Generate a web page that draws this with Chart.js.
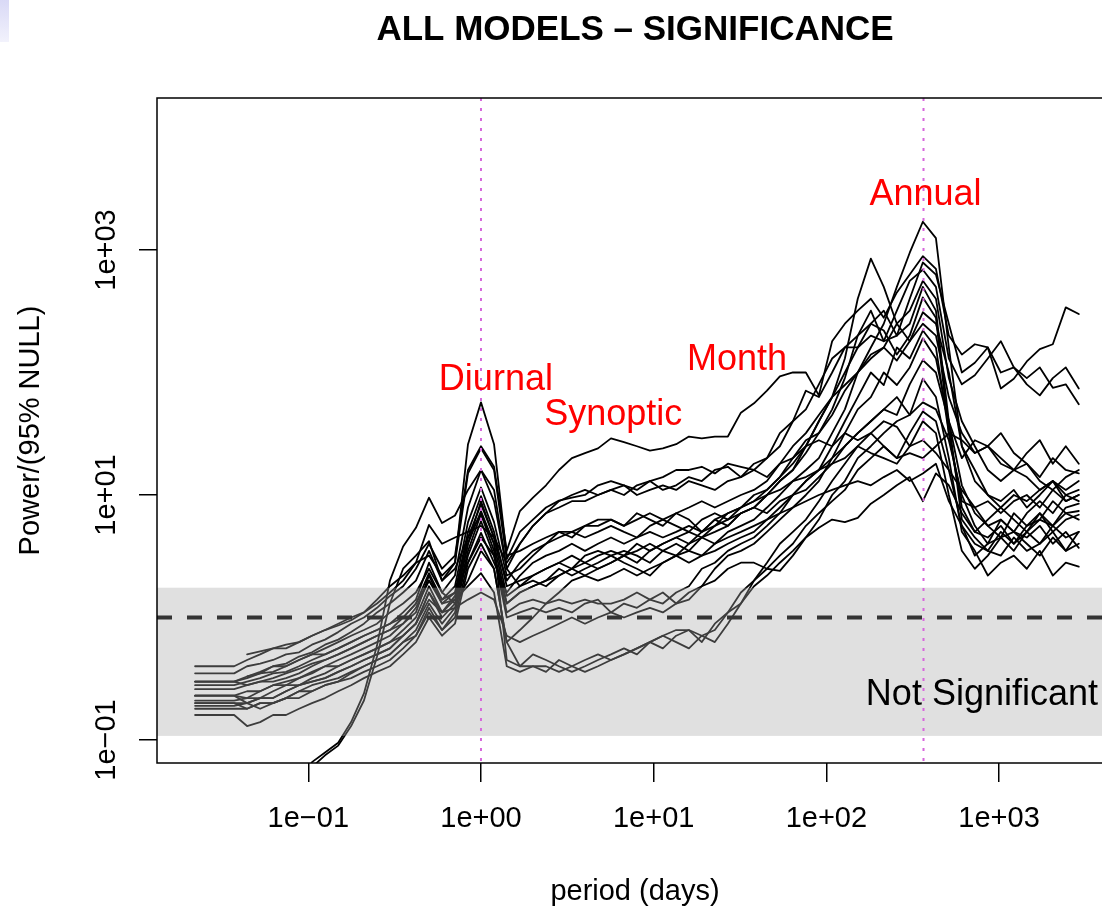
<!DOCTYPE html>
<html>
<head>
<meta charset="utf-8">
<title>ALL MODELS – SIGNIFICANCE</title>
<script src="https://cdn.jsdelivr.net/npm/chart.js@4.4.1/dist/chart.umd.min.js"></script>
<style>
  html, body { margin: 0; padding: 0; background: #fff; overflow: hidden; }
  #wrap { position: relative; width: 1102px; height: 911px; overflow: hidden; }
  #wrap canvas { position: absolute; left: 0; top: 0; }
  #corner { position: absolute; left: 0; top: 0; width: 9px; height: 42px;
            background: linear-gradient(#d9d9f6, #f2f2fc); }
</style>
</head>
<body>
<div id="wrap">
  <canvas id="chart" width="1140" height="911"></canvas>
  <div id="corner"></div>
</div>
<script>
// Period of each spectral bin (days), quarter-octave spacing
const periods = [
  0.0221, 0.0372, 0.0442, 0.0526, 0.0625, 0.0743, 0.0884, 0.105, 0.125, 0.149,
  0.177, 0.210, 0.250, 0.297, 0.354, 0.420, 0.500, 0.595, 0.707, 0.841,
  1.00, 1.19, 1.41, 1.68, 2.00, 2.38, 2.83, 3.36, 4.00, 4.76,
  5.66, 6.73, 8.00, 9.51, 11.3, 13.5, 16.0, 19.0, 22.6, 26.9,
  32.0, 38.1, 45.3, 53.8, 64.0, 76.1, 90.5, 108, 128, 152,
  181, 215, 256, 304, 362, 431, 512, 609, 724, 861,
  1024, 1218, 1448, 1722, 2048, 2435, 2896
];

// Power relative to the 95% null level, one array per model
const model01 = [0.40,0.40,0.45,0.50,0.56,0.56,0.63,0.71,0.79,0.89, 1.0,1.1,1.4,1.8,2.2,2.8,3.2,2.2,2.8,26, 57,26,3.2,3.5,4.0,4.5,5.0,5.0,5.6,5.6, 6.3,5.6,6.3,7.1,6.3,7.1,7.9,8.9,7.9,8.9, 10,11,13,18,25,32,45,63,79,100, 160,250,500,950,1700,1250,160,25,13,10, 8.9,11,7.9,10,13,8.9,10];
const model02 = [0.35,0.35,0.40,0.42,0.45,0.50,0.52,0.60,0.66,0.76, 0.89,1.0,1.2,1.5,1.8,2.5,4.0,2.5,3.2,16, 25,17,3.5,7.4,9.5,12,16,20,22,24, 29,27,25,23,24,26,30,29,30,30, 47,56,71,93,100,100,65,180,250,320, 400,280,450,630,890,700,200,140,170,160, 74,89,123,155,170,340,300];
const model03 = [0.30,0.30,0.33,0.35,0.40,0.42,0.48,0.52,0.60,0.66, 0.76,0.89,1.1,1.3,1.6,2.0,3.5,2.0,2.8,15, 24,16,3.0,5.0,6.3,7.9,9.0,9.5,10,12, 13,12,11,13,14,16,16,17,15,18, 17,16,20,25,40,71,63,100,160,200, 250,320,200,400,790,630,250,100,120,160, 100,110,80,65,90,110,74];
const model04 = [0.30,0.30,0.32,0.35,0.36,0.40,0.45,0.50,0.56,0.63, 0.71,0.79,0.89,1.1,1.3,1.6,2.5,1.6,2.2,7.9, 16,8.9,2.5,4.0,5.6,7.1,7.9,8.9,8.9,10, 11,10,12,13,11,12,14,13,16,17, 14,18,20,32,40,50,80,130,160,160, 200,180,320,560,690,500,130,80,95,130, 180,110,90,110,75,80,55];
const model05 = [0.30,0.30,0.28,0.30,0.32,0.35,0.38,0.42,0.45,0.50, 0.56,0.63,0.71,0.79,1.0,1.3,2.3,1.4,1.8,6.0, 11.5,6.0,2.2,2.5,3.2,4.0,4.5,5.0,4.5,5.0, 5.6,5.0,4.5,5.6,6.3,5.6,5.0,6.3,7.1,6.3, 7.9,8.9,11,14,18,25,40,63,130,400, 850,500,250,320,560,400,90,40,25,16, 13,16,18,13,11,14,16];
const model06 = [0.23,0.23,0.25,0.25,0.28,0.30,0.32,0.36,0.40,0.45, 0.50,0.56,0.63,0.71,0.89,1.2,2.0,1.3,1.6,5.0, 9.8,5.0,1.8,2.0,2.2,2.5,2.8,3.2,2.8,3.2, 3.5,3.2,4.0,3.5,4.0,4.5,4.0,5.0,5.6,7.1, 7.9,10,11,14,20,28,32,50,90,200, 320,180,200,250,500,320,40,12,7.1,5.6, 6.3,5.0,4.5,5.6,4.0,5.0,3.7];
const model07 = [0.23,0.23,0.22,0.25,0.28,0.28,0.32,0.35,0.40,0.40, 0.45,0.50,0.56,0.63,0.79,1.0,1.8,1.1,1.5,4.5, 8.4,4.5,1.5,1.8,2.2,2.5,2.8,2.5,3.2,3.5, 3.2,3.5,3.2,2.8,3.5,4.0,3.5,4.5,5.0,5.6, 7.1,7.9,10,13,16,25,40,63,100,160, 250,220,140,200,410,280,32,8.9,7.9,5.6, 4.5,7.1,5.6,6.3,8.9,7.1,7.4];
const model08 = [0.23,0.23,0.20,0.22,0.22,0.25,0.28,0.30,0.32,0.36, 0.40,0.45,0.50,0.56,0.71,0.89,1.6,1.0,1.3,4.0, 7.4,4.0,1.3,1.6,1.8,2.0,2.2,2.5,2.8,2.5, 2.8,3.2,3.5,4.0,3.5,3.2,4.0,4.5,4.0,5.0, 5.6,6.3,7.9,10,13,16,20,32,50,100, 130,160,250,180,310,250,100,25,16,10, 7.9,6.3,5.0,7.1,5.6,7.9,8.5];
const model09 = [0.20,0.20,0.18,0.20,0.20,0.22,0.25,0.28,0.30,0.32, 0.36,0.40,0.45,0.50,0.63,0.79,1.3,0.89,1.2,3.5, 7.0,3.5,1.1,1.3,1.4,1.3,1.4,1.3,1.4,1.3, 1.3,1.4,1.6,1.4,1.3,1.6,1.8,2.5,2.8,3.5, 4.0,4.5,5.6,7.1,10,13,16,25,40,63, 100,79,160,130,220,160,32,7.9,5.0,6.3, 7.9,10,8.9,11,13,10,11];
const model10 = [0.20,0.20,0.20,0.18,0.20,0.22,0.22,0.25,0.28,0.30, 0.32,0.36,0.40,0.45,0.56,0.71,1.2,0.79,1.1,3.2, 6.1,3.2,1.0,1.1,1.2,1.1,1.2,1.1,1.3,1.4, 1.1,1.3,1.2,1.4,1.6,1.3,1.4,1.8,2.5,3.2, 3.5,4.0,5.0,6.3,7.9,10,13,20,32,50, 63,100,79,110,190,130,40,6.3,4.5,3.5, 5.0,4.0,5.6,7.1,5.0,6.3,6.9];
const model11 = [0.18,0.18,0.18,0.20,0.20,0.22,0.25,0.25,0.28,0.30, 0.35,0.40,0.45,0.50,0.63,0.71,1.1,0.79,1.0,2.8, 4.9,2.8,1.6,2.2,2.8,3.2,3.5,4.0,3.5,4.0, 4.5,4.0,4.5,5.0,4.5,5.0,5.6,5.0,6.3,5.6, 7.1,7.9,7.1,8.9,10,13,16,20,25,32, 40,50,45,80,126,100,40,20,28,25, 32,22,18,14,20,16,15];
const model12 = [0.16,0.16,0.13,0.14,0.16,0.16,0.18,0.20,0.22,0.25, 0.28,0.32,0.36,0.40,0.50,0.63,1.0,0.71,0.89,2.5, 4.0,2.5,0.63,0.40,0.40,0.36,0.45,0.40,0.36,0.40, 0.45,0.50,0.56,0.63,0.71,0.79,0.79,0.63,0.89,1.1, 1.3,1.8,2.2,2.8,3.5,4.5,6.3,10,13,20, 25,32,40,45,89,63,20,5.0,3.5,2.2, 2.8,3.2,2.5,3.5,2.2,2.8,2.6];
const model13 = [0.28,0.28,0.30,0.32,0.35,0.36,0.40,0.45,0.50,0.56, 0.63,0.71,0.79,0.89,1.1,1.4,2.8,1.6,1.3,2.0, 3.5,2.5,0.63,0.79,1.0,1.3,1.6,2.0,2.2,2.0, 2.2,2.5,2.2,2.5,2.8,3.2,2.8,3.2,3.5,4.0, 4.5,5.0,6.3,7.9,10,11,14,18,25,32, 40,50,63,45,57,50,28,10,5.6,4.0, 6.3,5.0,7.1,8.9,7.1,10,8.9];
const model14 = [0.26,0.26,0.28,0.30,0.30,0.32,0.35,0.40,0.45,0.50, 0.56,0.63,0.71,0.79,0.89,1.1,2.2,1.3,1.4,1.8, 2.3,1.6,0.40,0.36,0.40,0.40,0.36,0.40,0.45,0.50, 0.45,0.50,0.56,0.63,0.71,0.63,0.56,0.71,0.79,1.1, 1.6,2.0,2.5,3.2,4.0,5.6,7.1,8.9,11,16, 20,25,20,32,48,40,16,5.6,3.2,4.0, 4.5,3.5,5.0,4.0,5.6,4.5,5.0];
const model15 = [0.21,0.21,0.22,0.22,0.25,0.28,0.28,0.32,0.35,0.40, 0.45,0.50,0.56,0.63,0.71,0.89,1.4,1.1,1.2,1.4, 1.6,1.4,0.71,0.63,0.71,0.79,0.89,1.0,0.89,1.0, 1.1,1.0,1.1,1.2,1.1,1.3,1.6,1.8,2.0,2.5, 2.8,2.8,2.5,2.4,3.2,4.5,5.4,6.3,6.0,6.5, 8.5,10,12,14,8.9,15,12,7.1,5.0,4.5, 5.6,4.0,5.0,6.3,5.6,7.1,6.3];
const model16 = [0.19,0.19,0.20,0.22,0.22,0.25,0.28,0.30,0.32,0.36, 0.40,0.45,0.50,0.56,0.71,0.89,1.6,1.1,1.4,4.0, 8.9,4.5,2.0,2.8,3.5,4.0,5.0,4.5,5.6,6.3, 6.3,5.6,7.1,6.3,5.6,7.1,6.3,5.0,6.3,7.1, 7.9,8.9,10,11,13,14,16,18,20,25, 22,20,18,25,28,22,16,11,7.9,8.9, 7.1,8.9,10,7.9,11,8.9,10];
const model17 = [null,null,0.50,0.53,0.56,0.60,0.63,0.71,0.79,0.86, 0.95,1.1,1.3,1.6,2.0,2.8,5.7,4.0,4.5,5.0, 5.6,4.5,2.8,4.0,5.6,7.1,8.9,10,11,10, 11,12,10,11,12,11,13,12,11,13, 14,16,14,18,20,25,28,25,32,28, 32,25,20,22,20,25,32,28,22,25, 18,16,14,11,13,11,13];
const model18 = [null,null,0.33,0.36,0.40,0.40,0.45,0.50,0.50,0.56, 0.63,0.71,0.79,0.89,1.0,1.3,2.0,1.4,1.6,2.8, 4.5,3.2,1.3,1.6,1.8,2.0,2.5,2.2,2.5,2.8, 3.2,2.8,2.5,2.2,2.8,3.2,3.5,3.2,4.0,4.5, 5.0,5.6,6.3,7.1,7.9,8.9,10,11,12,13, 12,14,16,13,15,18,8.9,5.6,4.0,3.5, 3.2,4.5,3.5,4.0,5.0,3.5,4.0];
const model19 = [0.001,0.003,0.006,0.010,0.016,0.025,0.040,0.066,0.079,0.095, 0.14,0.24,0.59,2.0,3.8,5.4,9.5,5.9,6.8,11, 16,11,2.5,1.8,2.0,1.8,2.2,2.5,2.2,2.5, 2.8,3.2,2.8,3.5,4.0,4.5,5.0,4.5,5.6,6.3, 7.1,7.9,10,13,16,22,32,45,71,100, 140,160,125,180,250,200,63,32,22,25, 20,16,22,28,18,25,18];
const model20 = [0.001,0.002,0.005,0.009,0.014,0.022,0.036,0.060,0.075,0.090, 0.13,0.21,0.48,1.3,2.5,3.2,4.2,2.0,2.5,4.5, 7.0,4.0,0.45,0.40,0.50,0.45,0.40,0.36,0.40,0.45, 0.50,0.56,0.50,0.63,0.56,0.71,0.79,0.71,0.63,0.89, 1.3,2.0,2.8,4.0,5.0,6.3,8.9,13,18,25, 32,40,36,25,40,32,10,3.5,2.5,3.2, 4.5,5.0,4.0,3.2,4.5,3.5,5.0];

const models = [model01, model02, model03, model04, model05, model06, model07, model08, model09, model10,
                model11, model12, model13, model14, model15, model16, model17, model18, model19, model20];

// Axis ticks
const xTickValues = [0.1, 1, 10, 100, 1000];
const xTickLabels = ['1e\u221201', '1e+00', '1e+01', '1e+02', '1e+03'];
const yTickValues = [0.1, 10, 1000];
const yTickLabels = ['1e\u221201', '1e+01', '1e+03'];

// Reference levels
const notSignificantBand = [0.108, 1.75];
const nullLevel = 1;
const cyclePeriods = [1, 365.25];   // diurnal and annual cycles

// Text placed in data coordinates
const notes = [
  { text: 'Diurnal',         period: 1.22, power: 72,    color: '#ff0000' },
  { text: 'Synoptic',        period: 5.84, power: 37.3,  color: '#ff0000' },
  { text: 'Month',           period: 30.4, power: 105,   color: '#ff0000' },
  { text: 'Annual',          period: 375,  power: 2330,  color: '#ff0000' },
  { text: 'Not Significant', period: 796,  power: 0.193, color: '#000000' }
];

const FONT = '"Liberation Sans", Arial, Helvetica, sans-serif';
Chart.defaults.font.family = FONT;
Chart.defaults.color = '#000';

const datasets = models.map((vals, k) => ({
  label: 'model ' + (k + 1),
  data: periods.map((p, i) => ({ x: p, y: vals[i] })),
  borderColor: '#000',
  borderWidth: 1.8,
  borderJoinStyle: 'round',
  borderCapStyle: 'round',
  pointRadius: 0,
  tension: 0,
  fill: false,
  spanGaps: false
}));

const overlay = {
  id: 'overlay',
  afterDatasetsDraw(chart) {
    const { ctx, chartArea: a, scales: { x, y } } = chart;
    ctx.save();
    ctx.beginPath();
    ctx.rect(a.left, a.top, a.right - a.left, a.bottom - a.top);
    ctx.clip();

    // translucent "not significant" band over the spectra
    const bTop = y.getPixelForValue(notSignificantBand[1]);
    const bBot = y.getPixelForValue(notSignificantBand[0]);
    ctx.fillStyle = 'rgba(168,168,168,0.36)';
    ctx.fillRect(a.left, bTop, a.right - a.left, bBot - bTop);

    // 95% null level
    const yn = y.getPixelForValue(nullLevel);
    ctx.strokeStyle = '#343434';
    ctx.lineWidth = 3.8;
    ctx.setLineDash([15, 15]);
    ctx.beginPath();
    ctx.moveTo(a.left, yn);
    ctx.lineTo(a.right, yn);
    ctx.stroke();

    // diurnal / annual markers
    ctx.strokeStyle = 'rgb(214,104,220)';
    ctx.lineWidth = 2;
    ctx.setLineDash([3, 7]);
    cyclePeriods.forEach(p => {
      const px = x.getPixelForValue(p);
      ctx.beginPath();
      ctx.moveTo(px, a.top);
      ctx.lineTo(px, a.bottom);
      ctx.stroke();
    });
    ctx.setLineDash([]);

    // notes
    ctx.font = '36px ' + FONT;
    ctx.textAlign = 'center';
    ctx.textBaseline = 'alphabetic';
    notes.forEach(n => {
      ctx.fillStyle = n.color;
      ctx.fillText(n.text, x.getPixelForValue(n.period), y.getPixelForValue(n.power));
    });
    ctx.restore();
  },
  afterDraw(chart) {
    const { ctx, chartArea: a, scales: { y } } = chart;
    ctx.save();
    // plot frame
    ctx.strokeStyle = '#000';
    ctx.lineWidth = 1.5;
    ctx.strokeRect(a.left, a.top, a.right - a.left, a.bottom - a.top);

    // rotated y tick labels
    ctx.fillStyle = '#000';
    ctx.font = '29px ' + FONT;
    ctx.textAlign = 'center';
    ctx.textBaseline = 'alphabetic';
    yTickValues.forEach((v, i) => {
      ctx.save();
      ctx.translate(a.left - 42, y.getPixelForValue(v));
      ctx.rotate(-Math.PI / 2);
      ctx.fillText(yTickLabels[i], 0, 0);
      ctx.restore();
    });

    // main title
    ctx.font = 'bold 35px ' + FONT;
    ctx.fillText('ALL MODELS \u2013 SIGNIFICANCE', (a.left + a.right) / 2, 40);
    ctx.restore();
  }
};

new Chart(document.getElementById('chart'), {
  type: 'line',
  data: { datasets },
  options: {
    responsive: false,
    animation: false,
    devicePixelRatio: 1,
    parsing: true,
    layout: { padding: { left: 0, top: 98, right: 27, bottom: 0 } },
    plugins: { legend: { display: false }, tooltip: { enabled: false }, title: { display: false } },
    scales: {
      x: {
        type: 'logarithmic',
        position: 'bottom',
        min: 0.0133,
        max: 4570,
        bounds: 'data',
        offset: false,
        afterBuildTicks: s => { s.ticks = xTickValues.map(v => ({ value: v })); },
        afterFit: s => { s.height = 148; },
        ticks: {
          autoSkip: false, maxRotation: 0, minRotation: 0, padding: 20,
          color: '#000', font: { size: 29 },
          callback: (v, i) => xTickLabels[i]
        },
        grid: {
          display: true, drawOnChartArea: false, drawTicks: true, tickLength: 19,
          tickColor: '#000', tickWidth: 1.5, color: '#000', lineWidth: 1.5
        },
        border: { display: false },
        title: { display: true, text: 'period (days)', color: '#000', font: { size: 29 }, padding: { top: 0, bottom: 2 } }
      },
      y: {
        type: 'logarithmic',
        position: 'left',
        min: 0.0649,
        max: 17400,
        bounds: 'data',
        afterBuildTicks: s => { s.ticks = yTickValues.map(v => ({ value: v })); },
        afterFit: s => { s.width = 157; },
        ticks: { display: false },
        grid: {
          display: true, drawOnChartArea: false, drawTicks: true, tickLength: 18,
          tickColor: '#000', tickWidth: 1.5, color: '#000', lineWidth: 1.5
        },
        border: { display: false },
        title: { display: true, text: 'Power/(95% NULL)', color: '#000', font: { size: 29 }, padding: { top: 14, bottom: 0 } }
      }
    }
  },
  plugins: [overlay]
});
</script>
</body>
</html>
